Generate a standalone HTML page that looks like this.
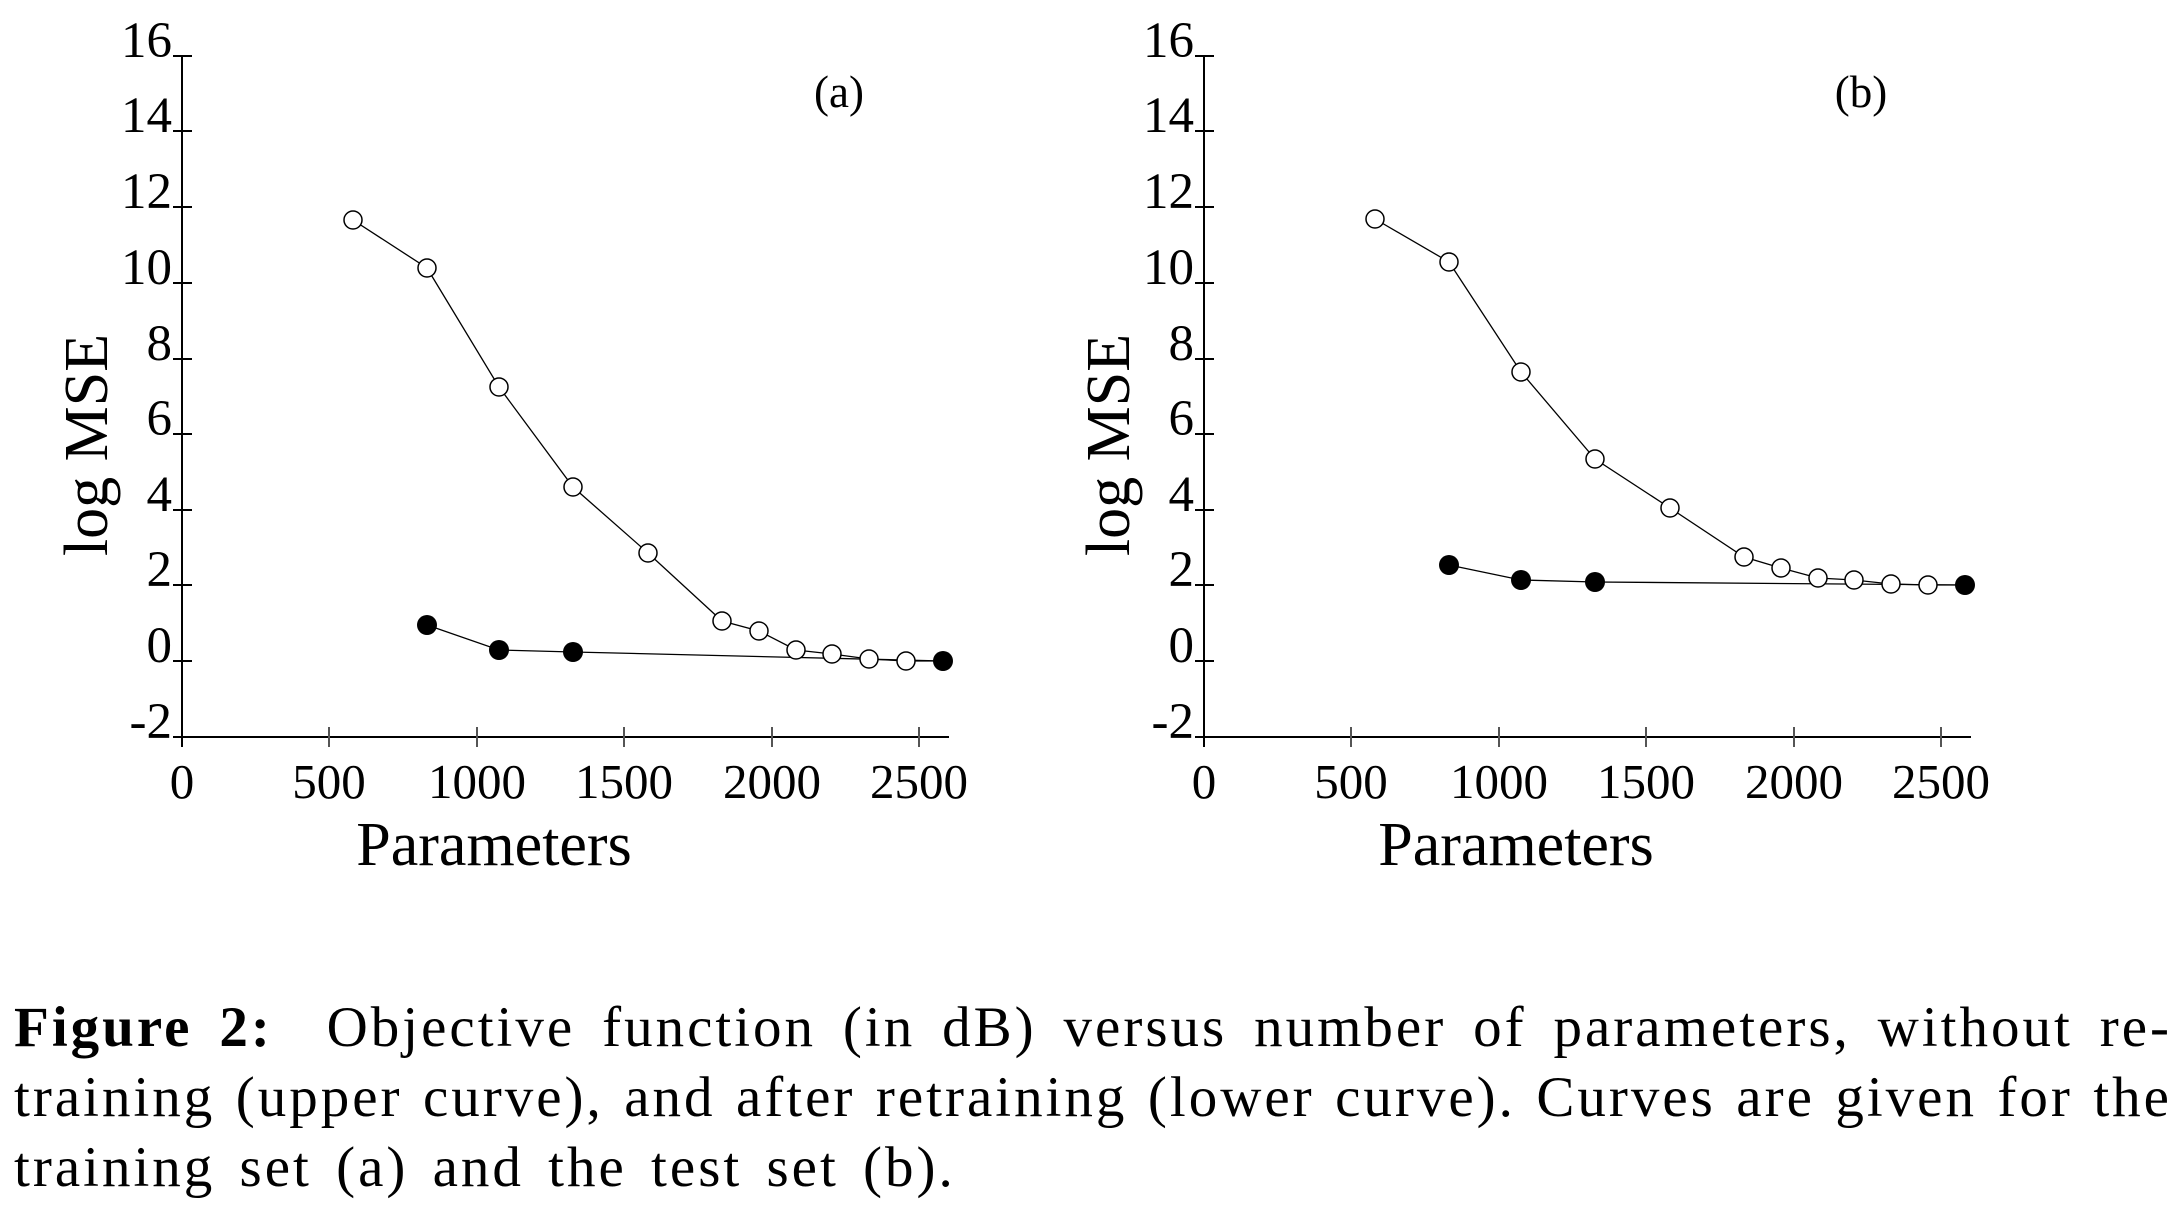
<!DOCTYPE html>
<html><head><meta charset="utf-8"><style>
html,body{margin:0;padding:0;background:#fff;width:2183px;height:1208px;overflow:hidden}
svg{position:absolute;left:0;top:0}
.cap{position:absolute;left:14px;width:2158px;font-family:"Liberation Serif",serif;font-size:57px;letter-spacing:3px;line-height:70px;color:#000;white-space:nowrap}
.j{text-align:justify;text-align-last:justify}
</style></head><body>
<svg width="2183" height="980" viewBox="0 0 2183 980" font-family="Liberation Serif, serif">
<defs>
<g id="axes">
 <line x1="182" y1="56" x2="182" y2="747" stroke="#000" stroke-width="2"/>
 <line x1="173" y1="737" x2="949" y2="737" stroke="#000" stroke-width="2"/>
 <g stroke="#000" stroke-width="2">
  <line x1="173" y1="56" x2="192" y2="56"/><line x1="173" y1="131" x2="192" y2="131"/>
  <line x1="173" y1="207" x2="192" y2="207"/><line x1="173" y1="283" x2="192" y2="283"/>
  <line x1="173" y1="359" x2="192" y2="359"/><line x1="173" y1="434" x2="192" y2="434"/>
  <line x1="173" y1="510" x2="192" y2="510"/><line x1="173" y1="585" x2="192" y2="585"/>
  <line x1="173" y1="661" x2="192" y2="661"/>
 </g>
 <g stroke="#555" stroke-width="2">
  <line x1="329" y1="727" x2="329" y2="747"/><line x1="477" y1="727" x2="477" y2="747"/>
  <line x1="624" y1="727" x2="624" y2="747"/><line x1="772" y1="727" x2="772" y2="747"/>
  <line x1="919" y1="727" x2="919" y2="747"/>
 </g>
 <g font-size="51" text-anchor="end">
  <text x="172" y="57">16</text><text x="172" y="132">14</text><text x="172" y="208">12</text>
  <text x="172" y="284">10</text><text x="172" y="360">8</text><text x="172" y="435">6</text>
  <text x="172" y="511">4</text><text x="172" y="586">2</text><text x="172" y="662">0</text>
  <text x="172" y="738">-2</text>
 </g>
 <g font-size="49" text-anchor="middle">
  <text x="182" y="798">0</text><text x="329" y="798">500</text><text x="477" y="798">1000</text>
  <text x="624" y="798">1500</text><text x="772" y="798">2000</text><text x="919" y="798">2500</text>
 </g>
 <text x="494" y="865" font-size="62" text-anchor="middle">Parameters</text>
 <text transform="translate(107,445) rotate(-90)" font-size="62" text-anchor="middle">log MSE</text>
</g>
</defs>
<use href="#axes"/>
<text x="839" y="107" font-size="45" text-anchor="middle">(a)</text>
<g stroke="#000" stroke-width="1.3" fill="none">
 <polyline points="353,220 427,268 499,387 573,487 648,553 722,621 759,631 796,650 832,654 869,659 906,661 943,661"/>
 <polyline points="427,625 499,650 573,652 943,661"/>
</g>
<g stroke="#000" stroke-width="1.5" fill="#fff">
 <circle cx="353" cy="220" r="9"/><circle cx="427" cy="268" r="9"/><circle cx="499" cy="387" r="9"/>
 <circle cx="573" cy="487" r="9"/><circle cx="648" cy="553" r="9"/><circle cx="722" cy="621" r="9"/>
 <circle cx="759" cy="631" r="9"/><circle cx="796" cy="650" r="9"/><circle cx="832" cy="654" r="9"/>
 <circle cx="869" cy="659" r="9"/><circle cx="906" cy="661" r="9"/>
</g>
<g fill="#000">
 <circle cx="427" cy="625" r="10"/><circle cx="499" cy="650" r="10"/><circle cx="573" cy="652" r="10"/><circle cx="943" cy="661" r="10"/>
</g>

<g transform="translate(1022,0)">
<use href="#axes"/>
<text x="839" y="107" font-size="45" text-anchor="middle">(b)</text>
<g stroke="#000" stroke-width="1.3" fill="none">
 <polyline points="353,219 427,262 499,372 573,459 648,508 722,557 759,568 796,578 832,580 869,584 906,585 943,585"/>
 <polyline points="427,565 499,580 573,582 943,585"/>
</g>
<g stroke="#000" stroke-width="1.5" fill="#fff">
 <circle cx="353" cy="219" r="9"/><circle cx="427" cy="262" r="9"/><circle cx="499" cy="372" r="9"/>
 <circle cx="573" cy="459" r="9"/><circle cx="648" cy="508" r="9"/><circle cx="722" cy="557" r="9"/>
 <circle cx="759" cy="568" r="9"/><circle cx="796" cy="578" r="9"/><circle cx="832" cy="580" r="9"/>
 <circle cx="869" cy="584" r="9"/><circle cx="906" cy="585" r="9"/>
</g>
<g fill="#000">
 <circle cx="427" cy="565" r="10"/><circle cx="499" cy="580" r="10"/><circle cx="573" cy="582" r="10"/><circle cx="943" cy="585" r="10"/>
</g>
</g>
</svg>
<div class="cap j" style="top:993px"><b>Figure 2:</b>&nbsp; Objective function (in dB) versus number of parameters, without re-</div>
<div class="cap j" style="top:1063px">training (upper curve), and after retraining (lower curve). Curves are given for the</div>
<div class="cap" style="top:1133px;word-spacing:7px">training set (a) and the test set (b).</div>
</body></html>
